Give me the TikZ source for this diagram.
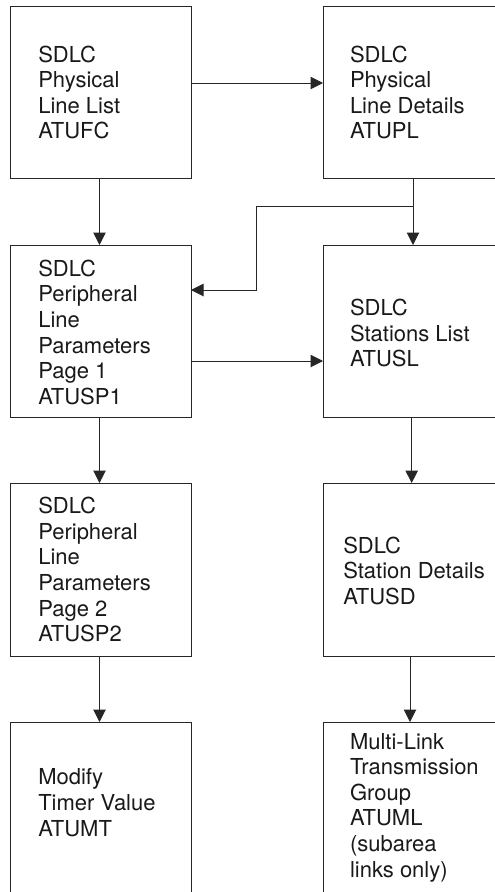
\documentclass[tikz,border=0pt]{standalone}
\usepackage{fontspec}
\setmainfont{TeX Gyre Heros}
\usetikzlibrary{arrows.meta}
\begin{document}
\begin{tikzpicture}[x=1pt,y=-1pt,
  box/.style={draw=black!85, line width=1pt, rectangle, inner sep=0pt, outer sep=0pt},
  lbl/.style={anchor=base west, align=left, inner sep=0pt, outer sep=0pt,
    font=\fontsize{22}{25.6}\selectfont, text=black!90},
  arr/.style={draw=black!85, line width=1pt, -{Triangle[length=12.5pt,width=12.5pt]}}]
\useasboundingbox (0,0) rectangle (495,892);
\begin{scope}
\clip (0,0) rectangle (495,892);
% boxes
\node[box, minimum width=180.3pt, minimum height=171.3pt] (b1) at (100.85,92.35) {};
\node[box, minimum width=182pt, minimum height=171.3pt] (b2) at (414,92.35) {};
\node[box, minimum width=180.3pt, minimum height=172pt] (b3) at (100.85,331) {};
\node[box, minimum width=182pt, minimum height=172pt] (b4) at (414,331) {};
\node[box, minimum width=180.3pt, minimum height=173pt] (b5) at (100.85,569.5) {};
\node[box, minimum width=182pt, minimum height=173pt] (b6) at (414,569.5) {};
\node[box, minimum width=180.3pt, minimum height=180pt] (b7) at (100.85,812) {};
\node[box, minimum width=182pt, minimum height=180pt] (b8) at (414,812) {};
\end{scope}
% labels (anchored at the baseline of their last line)
\node[lbl] (t1) at (38.3,138.8) {SDLC\\Physical\\Line List\\ATUFC};
\node[lbl] (t2) at (350,138.8) {SDLC\\Physical\\Line Details\\ATUPL};
\node[lbl] (t3) at (38.3,404.3) {SDLC\\Peripheral\\Line\\Parameters\\Page 1\\ATUSP1};
\node[lbl] (t4) at (350,366.7) {SDLC\\Stations List\\ATUSL};
\node[lbl] (t5) at (38.3,641.7) {SDLC\\Peripheral\\Line\\Parameters\\Page 2\\ATUSP2};
\node[lbl] (t6) at (343.3,604.3) {SDLC\\Station Details\\ATUSD};
\node[lbl] (t7) at (38.3,836) {Modify\\Timer Value\\ATUMT};
\node[lbl] (t8) at (350,877) {Multi-Link\\Transmission\\Group\\ATUML\\(subarea\\links only)};
% connectors
\coordinate (j) at (413,206);
\draw[arr] (b1.east |- 0,83) -- (b2.west |- 0,83);
\draw[arr] (b1.south -| 99.5,0) -- (b3.north -| 99.5,0);
\draw[arr] (b2.south -| 413,0) -- (b4.north -| 413,0);
\draw[arr] (j) -- (256,206) -- (256,290) -- (b3.east |- 0,290);
\draw[arr] (b3.east |- 0,361) -- (b4.west |- 0,361);
\draw[arr] (b3.south -| 99.5,0) -- (b5.north -| 99.5,0);
\draw[arr] (b4.south -| 411.7,0) -- (b6.north -| 411.7,0);
\draw[arr] (b5.south -| 99.5,0) -- (b7.north -| 99.5,0);
\draw[arr] (b6.south -| 410,0) -- (b8.north -| 410,0);
\end{tikzpicture}
\end{document}
